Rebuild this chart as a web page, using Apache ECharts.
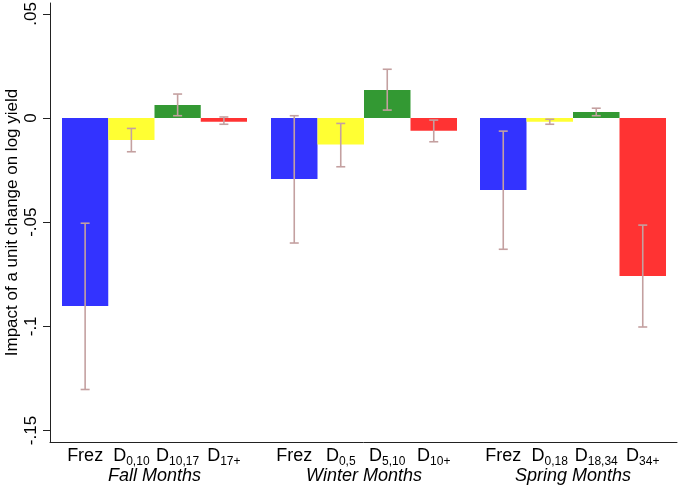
<!DOCTYPE html>
<html>
<head>
<meta charset="utf-8">
<script src="https://cdn.jsdelivr.net/npm/echarts@6/dist/echarts.min.js"></script>
<style>html,body{margin:0;padding:0;background:#fff}#c{width:680px;height:486px}</style>
</head>
<body>
<div id="c"></div>
<script>
// ---- data ----
const groupNames = ['Fall Months', 'Winter Months', 'Spring Months'];
const fallCats = ['Frez', 'D0,10', 'D10,17', 'D17+'];
const winterCats = ['Frez', 'D0,5', 'D5,10', 'D10+'];
const springCats = ['Frez', 'D0,18', 'D18,34', 'D34+'];

const fallVals = [-0.0902, -0.0106, 0.0063, -0.0018];
const fallLow = [-0.1303, -0.0162, 0.0011, -0.0030];
const fallHigh = [-0.0505, -0.0050, 0.0115, 0.0005];

const winterVals = [-0.0293, -0.0127, 0.0135, -0.0061];
const winterLow = [-0.0600, -0.0234, 0.0038, -0.0114];
const winterHigh = [0.0011, -0.0026, 0.0234, -0.0010];

const springVals = [-0.0346, -0.0018, 0.0029, -0.0758];
const springLow = [-0.0630, -0.0030, 0.0011, -0.1003];
const springHigh = [-0.0063, -0.0006, 0.0047, -0.0514];

const yTicks = [-0.15, -0.1, -0.05, 0, 0.05];
const yTickLabels = ['-.15', '-.1', '-.05', '0', '.05'];
const yTitle = 'Impact of a unit change on log yield';

// ---- styling ----
const barColors = ['#3333ff', '#ffff33', '#339933', '#ff3333'];
const errColor = '#c4a0a0';
const font = 'Liberation Sans, Arial, Helvetica, sans-serif';
const yMin = -0.1555, yMax = 0.0552;
const TOP = 3, BOTTOM = 44;

const groups = [
  {cats: fallCats, vals: fallVals, low: fallLow, high: fallHigh, left: 62, width: 185},
  {cats: winterCats, vals: winterVals, low: winterLow, high: winterHigh, left: 271, width: 186},
  {cats: springCats, vals: springVals, low: springLow, high: springHigh, left: 480, width: 186}
];

function catLabel(v) {
  if (v.charAt(0) === 'D') return '{n|D}{s|' + v.slice(1) + '}';
  return '{n|' + v + '}';
}

const grid = [{left: 50, right: 3, top: TOP, bottom: BOTTOM, outerBoundsMode: 'none', containLabel: false}];
const xAxis = [{
  gridIndex: 0, type: 'value', min: 0, max: 1,
  axisLine: {show: true, onZero: false, lineStyle: {color: '#222', width: 1}},
  axisTick: {show: false}, axisLabel: {show: false}, splitLine: {show: false}
}];
const yAxis = [{
  gridIndex: 0, type: 'value', min: yMin, max: yMax,
  name: yTitle, nameLocation: 'middle', nameGap: 29, nameMoveOverlap: false,
  nameTextStyle: {fontFamily: font, fontSize: 17, color: '#000'},
  axisLine: {show: true, lineStyle: {color: '#222', width: 1}},
  axisTick: {show: true, length: 7, customValues: yTicks, lineStyle: {color: '#222'}},
  axisLabel: {
    customValues: yTicks, rotate: 90, margin: 10,
    fontFamily: font, fontSize: 17, color: '#000',
    formatter: function (v) {
      for (let i = 0; i < yTicks.length; i++) if (Math.abs(v - yTicks[i]) < 1e-9) return yTickLabels[i];
      return '';
    }
  },
  splitLine: {show: false}
}];
const series = [];

groups.forEach(function (g, gi) {
  const idx = gi + 1;
  grid.push({left: g.left, width: g.width, top: TOP, bottom: BOTTOM, outerBoundsMode: 'none', containLabel: false});
  xAxis.push({
    gridIndex: idx, type: 'category', data: g.cats,
    name: groupNames[gi], nameLocation: 'middle', nameGap: 25, nameMoveOverlap: false,
    nameTextStyle: {fontFamily: font, fontSize: 18, fontStyle: 'italic', color: '#000'},
    axisLine: {show: false, onZero: false}, axisTick: {show: false},
    axisLabel: {
      margin: 5, interval: 0, formatter: catLabel,
      rich: {
        n: {fontFamily: font, fontSize: 18, color: '#000', verticalAlign: 'bottom'},
        s: {fontFamily: font, fontSize: 12, color: '#000', verticalAlign: 'bottom', padding: [0, 0, -3, 0]}
      }
    }
  });
  yAxis.push({gridIndex: idx, type: 'value', min: yMin, max: yMax, show: false, splitLine: {show: false}});
  series.push({
    type: 'bar', xAxisIndex: idx, yAxisIndex: idx,
    barCategoryGap: '0%', data: g.vals,
    itemStyle: {color: function (p) { return barColors[p.dataIndex]; }},
    animation: false
  });
  series.push({
    type: 'custom', xAxisIndex: idx, yAxisIndex: idx,
    data: g.cats.map(function (c, i) { return [i, g.low[i], g.high[i]]; }),
    renderItem: function (params, api) {
      const x = api.value(0);
      const lo = api.coord([x, api.value(1)]);
      const hi = api.coord([x, api.value(2)]);
      const hw = 4.5;
      const st = {stroke: errColor, lineWidth: 1.6};
      return {
        type: 'group',
        children: [
          {type: 'line', shape: {x1: lo[0], y1: lo[1], x2: hi[0], y2: hi[1]}, style: st},
          {type: 'line', shape: {x1: lo[0] - hw, y1: lo[1], x2: lo[0] + hw, y2: lo[1]}, style: st},
          {type: 'line', shape: {x1: hi[0] - hw, y1: hi[1], x2: hi[0] + hw, y2: hi[1]}, style: st}
        ]
      };
    },
    z: 5, animation: false
  });
});

const chart = echarts.init(document.getElementById('c'), null, {renderer: 'canvas'});
chart.setOption({
  backgroundColor: '#fff',
  animation: false,
  grid: grid, xAxis: xAxis, yAxis: yAxis, series: series
});
</script>
</body>
</html>
